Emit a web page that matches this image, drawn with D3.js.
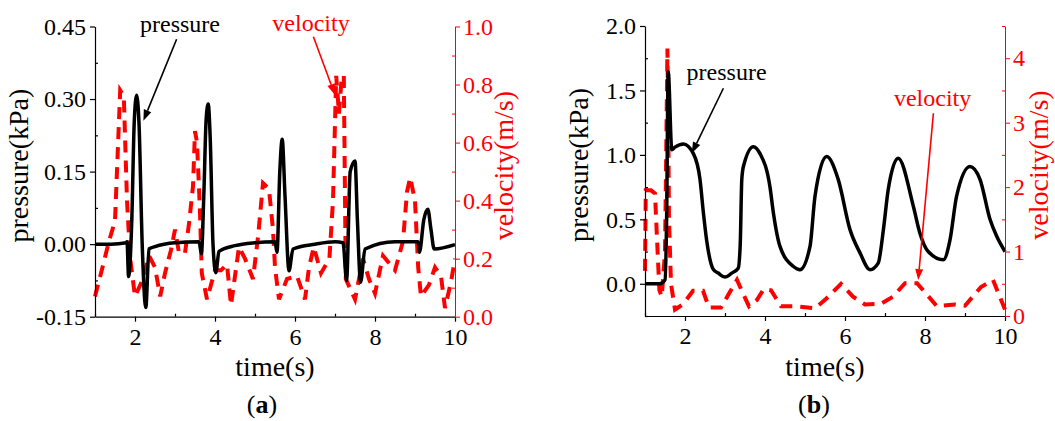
<!DOCTYPE html>
<html lang="en">
<head>
<meta charset="UTF-8">
<title>pressure and velocity</title>
<style type="text/css">
body {
	margin: 0;
	background: #fff;
}
svg text {
	font-family: "Liberation Serif", "Times New Roman", serif;
}
</style>
</head>
<body>
<script src="https://d3js.org/d3.v7.min.js"></script>
<script>
// panel (a): pressure (kPa) and velocity (m/s) against time (s)
var pressTimeA = [1.0, 1.4, 1.78, 1.8, 1.84, 1.92, 1.98, 2.04, 2.1, 2.18, 2.27, 2.35, 2.5, 3.0, 3.6, 3.66, 3.72, 3.78, 3.83, 3.88, 3.95, 4.02, 4.1, 4.5, 5.0, 5.5, 5.55, 5.62, 5.68, 5.75, 5.85, 5.95, 6.5, 7.0, 7.2, 7.29, 7.38, 7.5, 7.56, 7.64, 7.75, 8.5, 9.08, 9.11, 9.22, 9.32, 9.4, 9.48, 10.0]
var pressureA = [0.0, 0.0, 0.003, 0.005, -0.067, 0.05, 0.25, 0.308, 0.25, 0.0, -0.131, -0.01, -0.005, 0.003, 0.005, -0.02, 0.1, 0.26, 0.29, 0.22, 0.0, -0.059, -0.015, -0.003, 0.003, 0.005, -0.017, 0.15, 0.217, 0.1, -0.055, -0.01, 0.0, 0.005, 0.003, -0.075, 0.15, 0.172, 0.05, -0.079, -0.01, 0.005, 0.005, -0.017, 0.05, 0.072, 0.03, -0.01, -0.001]
var velTimeA = [1.0, 1.15, 1.35, 1.5, 1.63, 1.72, 1.8, 1.88, 2.0, 2.2, 2.35, 2.5, 2.63, 2.75, 2.9, 3.0, 3.1, 3.25, 3.35, 3.45, 3.5, 3.55, 3.62, 3.67, 3.8, 4.0, 4.15, 4.3, 4.4, 4.5, 4.6, 4.75, 4.95, 5.08, 5.2, 5.35, 5.45, 5.5, 5.6, 5.8, 6.05, 6.25, 6.35, 6.47, 6.65, 6.86, 6.95, 7.03, 7.1, 7.17, 7.22, 7.27, 7.5, 7.7, 7.85, 8.0, 8.2, 8.5, 8.7, 8.8, 8.88, 9.0, 9.08, 9.15, 9.35, 9.5, 9.65, 9.75, 9.9, 10.0]
var velocityA = [0.07, 0.15, 0.26, 0.33, 0.78, 0.76, 0.4, 0.2, 0.07, 0.13, 0.21, 0.17, 0.07, 0.15, 0.23, 0.3, 0.22, 0.22, 0.32, 0.45, 0.64, 0.6, 0.38, 0.15, 0.06, 0.16, 0.16, 0.18, 0.04, 0.14, 0.24, 0.2, 0.13, 0.28, 0.46, 0.44, 0.3, 0.17, 0.06, 0.13, 0.14, 0.06, 0.17, 0.24, 0.15, 0.2, 0.4, 0.83, 0.7, 0.83, 0.83, 0.13, 0.06, 0.2, 0.13, 0.08, 0.21, 0.16, 0.26, 0.43, 0.48, 0.4, 0.17, 0.07, 0.11, 0.17, 0.14, 0.03, 0.12, 0.2]

// panel (b)
var pressTimeB = [1.0, 1.375, 1.5, 1.54, 1.58, 1.67, 1.75, 1.96, 2.21, 2.375, 2.46, 2.54, 2.71, 2.83, 3.0, 3.17, 3.33, 3.38, 3.42, 3.46, 3.71, 3.875, 4.125, 4.21, 4.375, 4.71, 4.875, 5.125, 5.25, 5.54, 5.83, 6.125, 6.375, 6.625, 6.83, 6.96, 7.08, 7.33, 7.71, 7.875, 8.08, 8.46, 8.625, 8.79, 9.125, 9.375, 9.625, 9.79, 10.0]
var pressureB = [0.0, 0.0, 0.03, 0.5, 1.646, 1.04, 1.06, 1.085, 1.01, 0.81, 0.55, 0.34, 0.11, 0.083, 0.052, 0.083, 0.12, 0.3, 0.81, 0.91, 1.064, 1.01, 0.75, 0.55, 0.29, 0.134, 0.109, 0.29, 0.68, 0.987, 0.81, 0.42, 0.24, 0.109, 0.16, 0.42, 0.73, 0.974, 0.6, 0.39, 0.25, 0.186, 0.34, 0.68, 0.91, 0.81, 0.5, 0.37, 0.25]
var velTimeB = [1.0, 1.02, 1.15, 1.25, 1.3, 1.36, 1.42, 1.5, 1.53, 1.56, 1.58, 1.6, 1.65, 1.75, 1.95, 2.2, 2.45, 2.6, 2.9, 3.1, 3.3, 3.45, 3.6, 3.8, 3.97, 4.15, 4.4, 4.8, 5.25, 5.5, 5.9, 6.2, 6.5, 6.9, 7.2, 7.5, 7.8, 8.3, 8.75, 9.0, 9.4, 9.7, 10.0]
var velocityB = [0.7, 1.95, 1.95, 1.9, 1.2, 0.4, 0.3, 1.0, 2.5, 4.15, 3.2, 1.5, 0.5, 0.1, 0.18, 0.39, 0.39, 0.13, 0.13, 0.35, 0.56, 0.35, 0.15, 0.25, 0.42, 0.4, 0.15, 0.15, 0.12, 0.25, 0.5, 0.3, 0.18, 0.19, 0.3, 0.51, 0.51, 0.15, 0.18, 0.16, 0.45, 0.56, 0.1]

var xTicks = [2, 4, 6, 8, 10]
var xMinor = [1, 3, 5, 7, 9]
var leftTicksA = [-0.15, 0, 0.15, 0.30, 0.45]
var leftMinorA = [-0.075, 0.075, 0.225, 0.375]
var rightTicksA = [0, 0.2, 0.4, 0.6, 0.8, 1.0]
var rightMinorA = [0.1, 0.3, 0.5, 0.7, 0.9]
var leftTicksB = [0, 0.5, 1.0, 1.5, 2.0]
var leftMinorB = [-0.25, 0.25, 0.75, 1.25, 1.75]
var rightTicksB = [0, 1, 2, 3, 4]
var rightMinorB = [0.5, 1.5, 2.5, 3.5, 4.5]

var serif = '"Liberation Serif", "Times New Roman", serif'

var svg = d3.select("body").append("svg")
	.attr("width", 1055)
	.attr("height", 421)
	.attr("font-family", serif)

svg.append("rect").attr("width", 1055).attr("height", 421).attr("fill", "#fff")

function arrow(g, x1, y1, x2, y2, color) {
	var a = Math.atan2(y2 - y1, x2 - x1)
	var len = 11, half = 4
	var bx = x2 - len * Math.cos(a), by = y2 - len * Math.sin(a)
	g.append("line")
		.attr("x1", x1).attr("y1", y1)
		.attr("x2", bx).attr("y2", by)
		.attr("stroke", color).attr("stroke-width", 1.6)
	g.append("path")
		.attr("d", "M" + x2 + "," + y2 +
			"L" + (bx + half * Math.sin(a)) + "," + (by - half * Math.cos(a)) +
			"L" + (bx - half * Math.sin(a)) + "," + (by + half * Math.cos(a)) + "Z")
		.attr("fill", color)
}

function panel(c) {
	var g = svg.append("g")
	var x = d3.scaleLinear().domain([1, 10]).range([c.left, c.right])
	var yl = d3.scaleLinear().domain(c.leftDomain).range([c.bottom, c.top])
	var yr = d3.scaleLinear().domain(c.rightDomain).range([c.bottom, c.top])

	// series
	g.append("path")
		.datum(c.velTime.map(function (t, i) { return [x(t), yr(c.vel[i])] }))
		.attr("d", d3.line())
		.attr("fill", "none")
		.attr("stroke", "#ff0000")
		.attr("stroke-width", 4)
		.attr("stroke-dasharray", "12,8")
	g.append("path")
		.datum(c.pressTime.map(function (t, i) { return [x(t), yl(c.press[i])] }))
		.attr("d", d3.line().curve(d3.curveMonotoneX))
		.attr("fill", "none")
		.attr("stroke", "#000")
		.attr("stroke-width", 3.5)
		.attr("stroke-linejoin", "round")

	// axes
	var fs = "24px"
	var bx = g.append("g").attr("transform", "translate(0," + c.bottom + ")")
		.call(d3.axisBottom(x).tickValues(xTicks).tickSize(5).tickSizeOuter(0).tickPadding(6))
	var bxm = g.append("g").attr("transform", "translate(0," + c.bottom + ")")
		.call(d3.axisBottom(x).tickValues(xMinor).tickSize(-3).tickFormat(""))
	bxm.select(".domain").remove()

	var ly = g.append("g").attr("transform", "translate(" + c.left + ",0)")
		.call(d3.axisLeft(yl).tickValues(c.leftTicks).tickSize(5).tickSizeOuter(0).tickPadding(4)
			.tickFormat(function (d) { return d.toFixed(c.leftDec) }))
	var lym = g.append("g").attr("transform", "translate(" + c.left + ",0)")
		.call(d3.axisLeft(yl).tickValues(c.leftMinor).tickSize(-3).tickFormat(""))
	lym.select(".domain").remove()

	var ry = g.append("g").attr("transform", "translate(" + c.right + ",0)")
		.call(d3.axisRight(yr).tickValues(c.rightTicks).tickSize(5).tickSizeOuter(0).tickPadding(3)
			.tickFormat(function (d) { return d.toFixed(c.rightDec) }))
	var rym = g.append("g").attr("transform", "translate(" + c.right + ",0)")
		.call(d3.axisRight(yr).tickValues(c.rightMinor).tickSize(-3).tickFormat(""))
	rym.select(".domain").remove()

	;[bx, bxm, ly, lym, ry, rym].forEach(function (a) {
		a.attr("font-family", serif).attr("font-size", fs)
	})
	;[bx, bxm, ly, lym].forEach(function (a) {
		a.selectAll("path,line").attr("stroke", "#000").attr("stroke-width", 1.2)
	})
	;[ry, rym].forEach(function (a) {
		a.selectAll("path,line").attr("stroke", "#ff0000").attr("stroke-width", 1)
	})
	bx.selectAll("text").attr("fill", "#000")
	ly.selectAll("text").attr("fill", "#000")
	ry.selectAll("text").attr("fill", "#ff0000")

	// titles
	var cx = (c.left + c.right) / 2, cy = (c.top + c.bottom) / 2
	g.append("text").attr("x", cx).attr("y", 376)
		.attr("text-anchor", "middle").attr("font-size", "28px")
		.text("time(s)")
	g.append("text")
		.attr("transform", "translate(" + (c.left - c.leftTitle) + "," + (cy - 6) + ") rotate(-90)")
		.attr("text-anchor", "middle").attr("font-size", "28px")
		.text("pressure(kPa)")
	g.append("text")
		.attr("transform", "translate(" + (c.right + c.rightTitle) + "," + (cy - 6) + ") rotate(-90)")
		.attr("text-anchor", "middle").attr("font-size", "28px").attr("fill", "#ff0000")
		.text("velocity(m/s)")
	var cap = g.append("text").attr("x", c.capX).attr("y", 413)
		.attr("text-anchor", "middle").attr("font-size", "26px")
	cap.append("tspan").text("(")
	cap.append("tspan").attr("font-weight", "bold").text(c.cap)
	cap.append("tspan").text(")")

	// annotations
	var pa = c.pressNote, va = c.velNote
	g.append("text").attr("x", x(pa.tx)).attr("y", yl(pa.ty))
		.attr("text-anchor", "middle").attr("font-size", "24px").text("pressure")
	arrow(g, x(pa.t1), yl(pa.v1), x(pa.t2), yl(pa.v2), "#000")
	g.append("text").attr("x", x(va.tx)).attr("y", yr(va.ty))
		.attr("text-anchor", "middle").attr("font-size", "24px").attr("fill", "#ff0000").text("velocity")
	arrow(g, x(va.t1), yr(va.v1), x(va.t2), yr(va.v2), "#ff0000")
}

panel({
	left: 95, right: 455, top: 26.5, bottom: 316.7,
	leftDomain: [-0.15, 0.45], rightDomain: [0, 1.0],
	leftTicks: leftTicksA, leftMinor: leftMinorA, leftDec: 2,
	rightTicks: rightTicksA, rightMinor: rightMinorA, rightDec: 1,
	pressTime: pressTimeA, press: pressureA, velTime: velTimeA, vel: velocityA,
	leftTitle: 67, rightTitle: 58, capX: 262, cap: "a",
	pressNote: {tx: 3.125, ty: 0.439, t1: 3.04, v1: 0.4236, t2: 2.21, v2: 0.255},
	velNote: {tx: 6.4, ty: 0.984, t1: 6.46, v1: 0.965, t2: 7.0, v2: 0.764}
})

panel({
	left: 645, right: 1005, top: 26, bottom: 316,
	leftDomain: [-0.25, 2.0], rightDomain: [0, 4.5],
	leftTicks: leftTicksB, leftMinor: leftMinorB, leftDec: 1,
	rightTicks: rightTicksB, rightMinor: rightMinorB, rightDec: 0,
	pressTime: pressTimeB, press: pressureB, velTime: velTimeB, vel: velocityB,
	leftTitle: 57, rightTitle: 43, capX: 814, cap: "b",
	pressNote: {tx: 3.04, ty: 1.581, t1: 2.96, v1: 1.517, t2: 2.17, v2: 1.013},
	velNote: {tx: 8.19, ty: 3.26, t1: 8.21, v1: 3.146, t2: 7.83, v2: 0.559}
})
</script>
</body>
</html>
